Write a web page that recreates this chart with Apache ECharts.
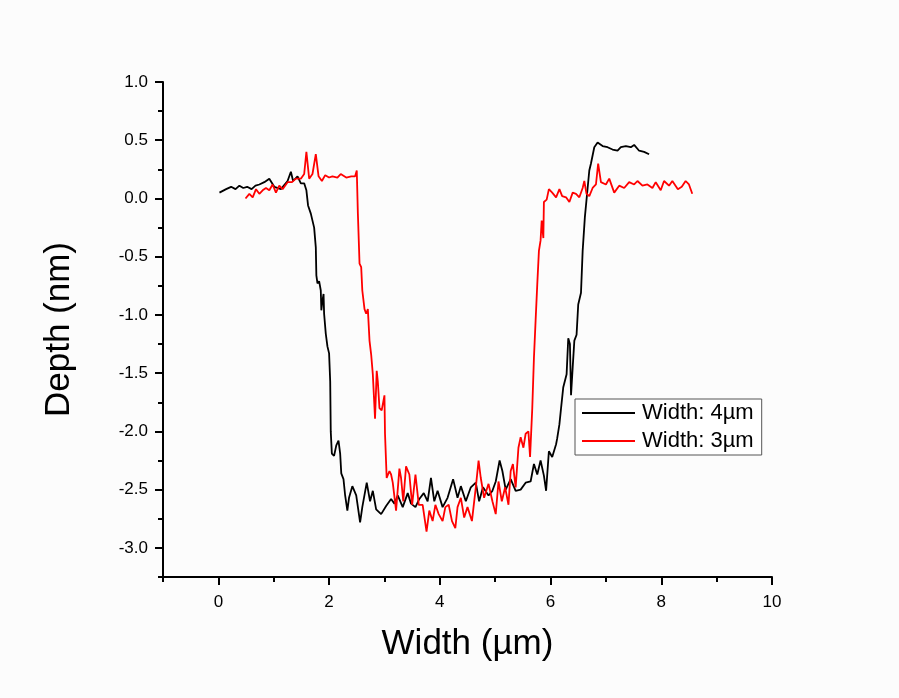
<!DOCTYPE html>
<html>
<head>
<meta charset="utf-8">
<script src="https://cdn.jsdelivr.net/npm/echarts@6/dist/echarts.min.js"></script>
<style>html,body{margin:0;padding:0;background:#fcfcfc;}#c{width:899px;height:698px;}</style>
</head>
<body>
<div id="c"></div>
<script>
var seriesNames = ['Width: 4\u00b5m', 'Width: 3\u00b5m'];
var xTickLabels = [0, 2, 4, 6, 8, 10];
var xMinorTicks = [-1, 1, 3, 5, 7, 9];
var yTickLabels = [-3.0, -2.5, -2.0, -1.5, -1.0, -0.5, 0.0, 0.5, 1.0];
var yMinorTicks = [-3.25, -2.75, -2.25, -1.75, -1.25, -0.75, -0.25, 0.25, 0.75];

var blackX = [0.02,0.14,0.23,0.31,0.38,0.45,0.52,0.60,0.67,0.74,0.83,0.92,1.01,1.13,1.25,1.31,1.35,1.43,1.49,1.55,1.59,1.62,1.67,1.73,1.76,1.77,1.79,1.82,1.85,1.86,1.88,1.90,1.91,1.94,1.97,2.00,2.02,2.03,2.05,2.09,2.13,2.17,2.20,2.22,2.26,2.29,2.33,2.36,2.42,2.49,2.56,2.60,2.68,2.74,2.79,2.85,2.94,3.03,3.12,3.18,3.24,3.33,3.42,3.48,3.56,3.63,3.71,3.78,3.84,3.90,3.96,4.05,4.14,4.24,4.32,4.38,4.47,4.56,4.65,4.71,4.78,4.88,4.95,5.01,5.08,5.13,5.19,5.28,5.37,5.46,5.55,5.64,5.70,5.76,5.82,5.88,5.92,5.97,6.03,6.10,6.12,6.16,6.19,6.23,6.29,6.32,6.35,6.37,6.40,6.43,6.47,6.50,6.55,6.58,6.62,6.67,6.70,6.73,6.79,6.85,6.94,7.03,7.12,7.21,7.27,7.36,7.45,7.51,7.60,7.69,7.78];
var blackY = [0.05,0.08,0.10,0.08,0.11,0.09,0.10,0.08,0.11,0.12,0.14,0.17,0.10,0.08,0.15,0.23,0.15,0.19,0.13,0.13,0.07,-0.06,-0.13,-0.25,-0.42,-0.66,-0.73,-0.71,-0.79,-0.96,-0.88,-0.82,-0.99,-1.16,-1.27,-1.33,-1.57,-2.00,-2.19,-2.21,-2.12,-2.08,-2.19,-2.36,-2.41,-2.55,-2.68,-2.57,-2.47,-2.55,-2.78,-2.65,-2.44,-2.60,-2.51,-2.67,-2.71,-2.64,-2.58,-2.62,-2.55,-2.65,-2.53,-2.62,-2.65,-2.58,-2.53,-2.60,-2.40,-2.60,-2.51,-2.65,-2.57,-2.41,-2.57,-2.47,-2.60,-2.48,-2.44,-2.60,-2.48,-2.55,-2.51,-2.43,-2.25,-2.34,-2.50,-2.41,-2.51,-2.50,-2.44,-2.43,-2.28,-2.37,-2.25,-2.38,-2.51,-2.17,-2.22,-2.11,-2.06,-1.94,-1.80,-1.62,-1.51,-1.20,-1.25,-1.69,-1.45,-1.22,-1.17,-0.91,-0.81,-0.45,-0.16,0.09,0.24,0.30,0.44,0.48,0.45,0.44,0.42,0.41,0.44,0.45,0.44,0.46,0.41,0.40,0.38];

var redX = [0.49,0.56,0.62,0.68,0.74,0.80,0.86,0.92,0.98,1.04,1.10,1.16,1.25,1.33,1.40,1.49,1.55,1.59,1.64,1.70,1.76,1.81,1.87,1.93,2.00,2.06,2.15,2.21,2.31,2.40,2.47,2.50,2.52,2.55,2.58,2.60,2.64,2.67,2.70,2.73,2.76,2.79,2.83,2.86,2.88,2.91,2.95,3.00,3.01,3.04,3.09,3.12,3.15,3.21,3.27,3.30,3.34,3.39,3.45,3.50,3.56,3.62,3.69,3.76,3.81,3.87,3.92,3.98,4.05,4.10,4.16,4.22,4.28,4.32,4.38,4.44,4.50,4.58,4.65,4.70,4.74,4.80,4.88,4.95,5.01,5.06,5.12,5.18,5.24,5.28,5.32,5.37,5.42,5.46,5.51,5.55,5.60,5.63,5.67,5.70,5.73,5.76,5.79,5.82,5.84,5.87,5.88,5.93,5.97,6.03,6.10,6.16,6.21,6.28,6.34,6.40,6.46,6.52,6.58,6.61,6.65,6.70,6.76,6.82,6.86,6.91,7.00,7.06,7.15,7.24,7.33,7.42,7.51,7.57,7.66,7.75,7.84,7.90,7.99,8.05,8.14,8.20,8.30,8.37,8.44,8.50,8.56];
var redY = [0.00,0.04,0.01,0.08,0.04,0.07,0.09,0.07,0.12,0.05,0.11,0.08,0.14,0.14,0.17,0.17,0.21,0.40,0.17,0.21,0.38,0.19,0.15,0.20,0.18,0.19,0.18,0.21,0.18,0.19,0.19,0.24,-0.13,-0.56,-0.59,-0.79,-0.95,-0.99,-0.95,-1.22,-1.34,-1.51,-1.89,-1.48,-1.57,-1.80,-1.82,-1.69,-2.02,-2.40,-2.34,-2.37,-2.44,-2.68,-2.32,-2.40,-2.60,-2.30,-2.37,-2.63,-2.37,-2.63,-2.63,-2.86,-2.68,-2.77,-2.63,-2.71,-2.77,-2.65,-2.63,-2.77,-2.83,-2.65,-2.57,-2.74,-2.65,-2.77,-2.48,-2.25,-2.40,-2.57,-2.45,-2.60,-2.71,-2.43,-2.60,-2.48,-2.63,-2.34,-2.28,-2.48,-2.14,-2.05,-2.14,-2.02,-2.00,-2.22,-1.80,-1.37,-1.05,-0.74,-0.45,-0.36,-0.19,-0.34,-0.03,-0.01,0.08,0.05,0.01,0.08,0.02,0.01,-0.03,0.05,0.04,0.01,0.09,0.15,0.04,0.02,0.09,0.12,0.30,0.14,0.12,0.17,0.05,0.11,0.09,0.14,0.12,0.15,0.11,0.12,0.09,0.14,0.07,0.15,0.11,0.15,0.08,0.10,0.15,0.12,0.04];

function zip(xs, ys) { return xs.map(function (x, i) { return [x, ys[i]]; }); }

var FONT = '"Liberation Sans", Arial, sans-serif';
var chart = echarts.init(document.getElementById('c'));
var axisLine = { show: true, onZero: false, lineStyle: { color: '#000', width: 2 } };
chart.setOption({
  backgroundColor: '#fcfcfc',
  animation: false,
  grid: { left: 163, right: 127, top: 82, bottom: 121, containLabel: false },
  legend: {
    orient: 'vertical', left: 575, top: 399,
    data: seriesNames,
    icon: 'rect',
    padding: [3, 8, 3, 7], itemGap: 6,
    itemWidth: 53, itemHeight: 2,
    borderColor: '#555', borderWidth: 1,
    backgroundColor: '#fff',
    textStyle: { fontFamily: FONT, fontSize: 22, color: '#000', padding: [0, 0, 0, 2] }
  },
  xAxis: [{
    type: 'value', min: -1, max: 10,
    name: 'Width (\u00b5m)', nameLocation: 'middle', nameGap: 50,
    nameTextStyle: { fontFamily: FONT, fontSize: 35, color: '#000' },
    axisLine: axisLine,
    axisTick: { show: true, length: 8, lineStyle: { color: '#000', width: 2 }, customValues: xTickLabels },
    axisLabel: { fontFamily: FONT, fontSize: 17, color: '#000', margin: 17, customValues: xTickLabels },
    splitLine: { show: false }
  }, {
    type: 'value', min: -1, max: 10, position: 'bottom',
    axisLine: { show: false, onZero: false },
    axisTick: { show: true, length: 5, lineStyle: { color: '#000', width: 2 }, customValues: xMinorTicks },
    axisLabel: { show: false },
    splitLine: { show: false }
  }],
  yAxis: [{
    type: 'value', min: -3.25, max: 1.0,
    name: 'Depth (nm)', nameLocation: 'middle', nameGap: 86, nameRotate: 90,
    nameTextStyle: { fontFamily: FONT, fontSize: 35, color: '#000' },
    axisLine: axisLine,
    axisTick: { show: true, length: 8, lineStyle: { color: '#000', width: 2 }, customValues: yTickLabels },
    axisLabel: { fontFamily: FONT, fontSize: 17, color: '#000', margin: 15, customValues: yTickLabels,
      formatter: function (v) { return v.toFixed(1); } },
    splitLine: { show: false }
  }, {
    type: 'value', min: -3.25, max: 1.0, position: 'left',
    axisLine: { show: false, onZero: false },
    axisTick: { show: true, length: 5, lineStyle: { color: '#000', width: 2 }, customValues: yMinorTicks },
    axisLabel: { show: false },
    splitLine: { show: false }
  }],
  series: [{
    name: seriesNames[0], type: 'line', xAxisIndex: 0, yAxisIndex: 0,
    data: zip(blackX, blackY), showSymbol: false, symbol: 'none',
    lineStyle: { color: '#000', width: 1.8 }, itemStyle: { color: '#000' }
  }, {
    name: seriesNames[1], type: 'line', xAxisIndex: 0, yAxisIndex: 0,
    data: zip(redX, redY), showSymbol: false, symbol: 'none',
    lineStyle: { color: '#ff0000', width: 1.8 }, itemStyle: { color: '#ff0000' }
  }]
});
</script>
</body>
</html>
